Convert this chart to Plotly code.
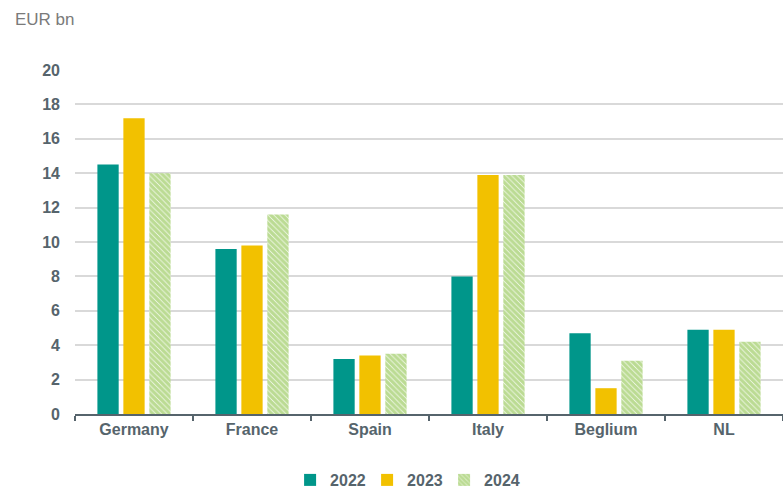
import plotly.graph_objects as go

countries = ["Germany", "France", "Spain", "Italy", "Beglium", "NL"]
v2022 = [14.5, 9.6, 3.2, 8.0, 4.7, 4.9]
v2023 = [17.2, 9.8, 3.4, 13.9, 1.5, 4.9]
v2024 = [14.0, 11.6, 3.5, 13.9, 3.1, 4.2]
y_ticks = [0, 2, 4, 6, 8, 10, 12, 14, 16, 18, 20]

TEAL = "#00968A"
YELLOW = "#F2C100"
GREEN = "#78B828"
AXIS_TXT = "#56646C"

fig = go.Figure()
fig.add_trace(go.Bar(name="2022", x=countries, y=v2022, marker=dict(color=TEAL, line=dict(width=0))))
fig.add_trace(go.Bar(name="2023", x=countries, y=v2023, marker=dict(color=YELLOW, line=dict(width=0))))
fig.add_trace(go.Bar(
    name="2024", x=countries, y=v2024,
    marker=dict(
        color="white",
        line=dict(width=0),
        pattern=dict(shape="\\", fgcolor=GREEN, bgcolor="white", size=4, solidity=0.85),
    ),
))

fig.update_layout(
    width=783, height=488,
    margin=dict(l=75, r=0, t=70, b=74),
    paper_bgcolor="white", plot_bgcolor="white",
    barmode="group", bargap=0.34, bargroupgap=0.18,
    font=dict(family="Liberation Sans, Arial, sans-serif", color=AXIS_TXT),
    legend=dict(
        orientation="h", xref="container", x=0.518, xanchor="center",
        yref="container", y=(488 - 480) / 488, yanchor="middle",
        font=dict(size=16, color=AXIS_TXT, weight="bold"),
        itemwidth=30, entrywidth=32, traceorder="normal",
    ),
    annotations=[dict(
        text="EUR bn", xref="paper", yref="paper",
        x=(13 - 75) / 708, y=1 + (70 - 20) / 344,
        showarrow=False, xanchor="left", yanchor="middle",
        font=dict(size=17, color="#7A7A7A"),
    )],
)

fig.update_xaxes(
    showline=True, linecolor="#56646C", linewidth=2,
    ticks="outside", tickson="boundaries", ticklen=5, tickcolor="#56646C", tickwidth=2,
    tickfont=dict(size=16, color=AXIS_TXT, weight="bold"),
    showgrid=False,
)
fig.update_yaxes(
    range=[0, 20], tickvals=y_ticks,
    showgrid=True, gridcolor="#D9D9D9", gridwidth=1.5,
    zeroline=False, showline=False,
    tickfont=dict(size=16, color=AXIS_TXT, weight="bold"),
    ticklabelstandoff=14,
)

fig.write_html("out.html")
